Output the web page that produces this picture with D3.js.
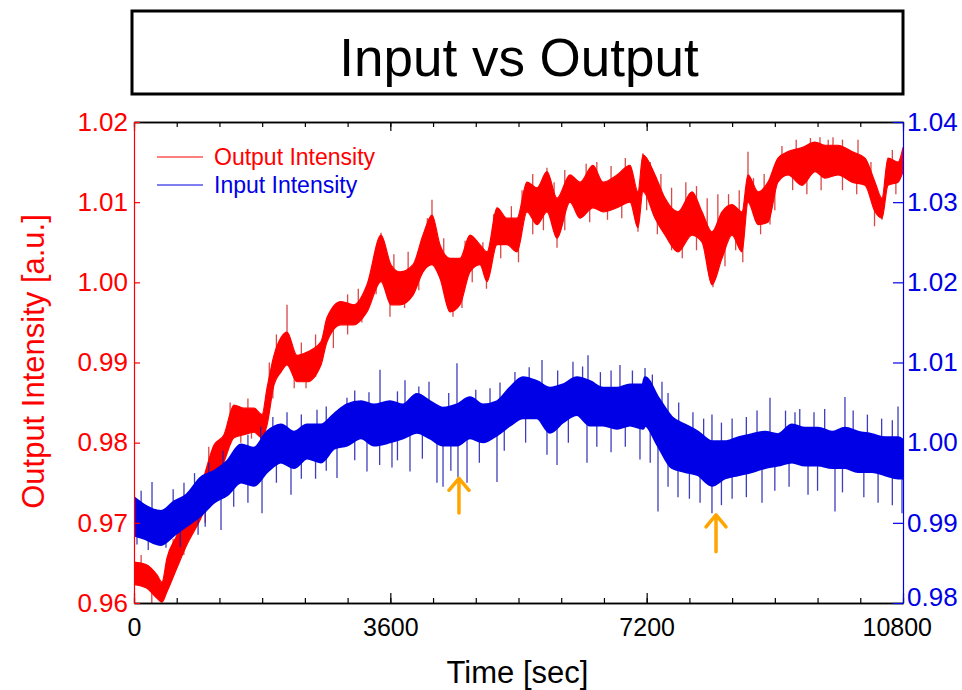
<!DOCTYPE html>
<html>
<head>
<meta charset="utf-8">
<script src="https://cdn.jsdelivr.net/npm/d3@7"></script>
<style>
  body { margin: 0; background: #fff; }
  text { font-family: "Liberation Sans", Arial, Helvetica, sans-serif; }
</style>
</head>
<body>
<div id="chart"></div>
<script>
// ---- data ----
// Output intensity (left axis): band of the dense trace, low / high edge
var outTime = [0,169,323,393,463,604,744,941,1124,1264,
  1404,1545,1685,1798,1868,1966,2064,2149,2289,2430,
  2626,2711,2907,3090,3272,3469,3609,3736,3918,4059,
  4185,4297,4438,4578,4719,4859,4958,5098,5238,5379,
  5519,5660,5800,5941,6123,6264,6446,6587,6783,6966,
  7078,7148,7317,7457,7640,7837,7977,8117,8258,8398,
  8539,8623,8764,8904,9044,9185,9381,9564,9704,9887,
  10084,10266,10407,10505,10589,10730,10800];
var outHi = [0.9651,0.9648,0.9635,0.9626,0.9656,0.9685,0.9719,0.9747,0.9797,0.9810,
  0.9847,0.9843,0.9843,0.9835,0.9868,0.9909,0.9931,0.9938,0.9909,0.9913,
  0.9926,0.9956,0.9976,0.9972,0.9997,1.0059,1.0022,1.0013,1.0022,1.0059,
  1.0084,1.0047,1.0030,1.0030,1.0059,1.0047,1.0038,1.0093,1.0080,1.0080,
  1.0125,1.0118,1.0138,1.0105,1.0134,1.0125,1.0146,1.0125,1.0134,1.0146,
  1.0113,1.0159,1.0134,1.0105,1.0088,1.0113,1.0088,1.0063,1.0088,1.0097,
  1.0088,1.0134,1.0113,1.0125,1.0155,1.0163,1.0168,1.0175,1.0171,1.0171,
  1.0163,1.0155,1.0125,1.0105,1.0155,1.0150,1.0168];
var outLo = [0.9623,0.9619,0.9606,0.9601,0.9614,0.9644,0.9673,0.9706,0.9747,0.9776,
  0.9806,0.9810,0.9813,0.9806,0.9822,0.9872,0.9888,0.9897,0.9876,0.9876,
  0.9897,0.9926,0.9947,0.9947,0.9963,1.0001,0.9972,0.9972,0.9984,1.0013,
  1.0022,1.0005,0.9963,0.9972,1.0013,1.0022,1.0001,1.0047,1.0047,1.0038,
  1.0088,1.0072,1.0088,1.0055,1.0100,1.0080,1.0093,1.0088,1.0093,1.0100,
  1.0068,1.0113,1.0080,1.0059,1.0038,1.0059,1.0050,0.9997,1.0030,1.0059,
  1.0038,1.0100,1.0072,1.0075,1.0125,1.0134,1.0121,1.0138,1.0130,1.0134,
  1.0125,1.0121,1.0088,1.0080,1.0121,1.0125,1.0138];
// spikes of the output trace [time, value]
var outSpikes = [[2149,0.9972],[3469,1.0062],[4185,1.0103],[5800,1.0143],[7148,1.0161],
  [8623,1.0163],[9634,1.0181],[9817,1.0181],[10168,1.0178],
  [1798,0.9803],[2416,0.9868],[3595,0.9957],[4480,0.9957],[4606,0.9968],
  [5941,1.0043],[7078,1.0063],[8131,0.9994],[8932,1.0072],[10505,1.0078],
  [100,0.9660],[550,0.9680],[850,0.9745],[1050,0.9795],[1350,0.9850],[1600,0.9855],
  [1900,0.9900],[2000,0.9935],[2350,0.9925],[2550,0.9935],[2800,0.9970],[3000,0.9985],
  [3150,0.9992],[3380,1.0035],[3650,1.0035],[3850,1.0038],[4120,1.0080],[4350,1.0055],
  [4650,1.0052],[4900,1.0050],[5050,1.0085],[5300,1.0095],[5450,1.0115],[5600,1.0135],
  [5900,1.0125],[6050,1.0140],[6350,1.0148],[6500,1.0150],[6700,1.0145],[6900,1.0155],
  [7250,1.0150],[7400,1.0135],[7550,1.0118],[7750,1.0125],[7900,1.0120],[8050,1.0105],
  [8200,1.0110],[8350,1.0110],[8500,1.0115],[8700,1.0130],[8850,1.0135],[9100,1.0170],
  [9300,1.0178],[9500,1.0180],[9750,1.0178],[9950,1.0178],[10350,1.0150],[10650,1.0165],
  [250,0.9598],[700,0.9660],[1000,0.9700],[1200,0.9760],[1500,0.9800],[1650,0.9805],
  [1950,0.9855],[2250,0.9868],[2550,0.9882],[2800,0.9918],[3000,0.9935],[3200,0.9950],
  [3400,0.9985],[3800,0.9968],[4000,0.9990],[4350,0.9990],[4750,1.0000],[4950,0.9992],
  [5150,1.0030],[5400,1.0025],[5600,1.0060],[5750,1.0065],[6050,1.0065],[6400,1.0075],
  [6650,1.0078],[6850,1.0080],[7200,1.0090],[7350,1.0060],[7550,1.0040],[7700,1.0030],
  [7900,1.0040],[8050,1.0030],[8300,1.0020],[8450,1.0040],[8550,1.0025],[8800,1.0060],
  [9000,1.0090],[9250,1.0115],[9450,1.0110],[9650,1.0115],[9950,1.0115],[10150,1.0110],
  [10400,1.0070],[10700,1.0110]];

// Input intensity (right axis)
var inTime = [0,140,379,562,744,941,1124,1306,1503,1685,
  1868,2064,2247,2430,2626,2809,2991,3188,3371,3595,
  3778,3974,4157,4340,4536,4719,4901,5098,5281,5463,
  5660,5842,6025,6221,6404,6587,6783,6966,7148,7177,
  7359,7556,7738,7921,8117,8300,8483,8679,8862,9044,
  9241,9424,9606,9803,9985,10168,10365,10547,10730,10800];
var inHi = [0.9931,0.9922,0.9914,0.9926,0.9935,0.9956,0.9964,0.9976,0.9997,0.9993,
  1.0013,1.0022,1.0013,1.0022,1.0022,1.0035,1.0047,1.0051,1.0047,1.0051,
  1.0047,1.0060,1.0051,1.0043,1.0047,1.0056,1.0047,1.0051,1.0068,1.0081,
  1.0076,1.0068,1.0072,1.0081,1.0076,1.0068,1.0068,1.0072,1.0072,1.0081,
  1.0056,1.0031,1.0022,1.0013,1.0001,1.0001,1.0006,1.0010,1.0013,1.0010,
  1.0022,1.0018,1.0018,1.0013,1.0018,1.0013,1.0010,1.0006,1.0006,1.0003];
var inLo = [0.9885,0.9881,0.9873,0.9885,0.9897,0.9910,0.9926,0.9935,0.9951,0.9947,
  0.9964,0.9976,0.9969,0.9981,0.9976,0.9993,0.9997,1.0006,0.9997,1.0001,
  1.0006,1.0013,1.0006,0.9997,0.9997,1.0006,1.0001,1.0010,1.0022,1.0031,
  1.0031,1.0013,1.0026,1.0035,1.0022,1.0022,1.0018,1.0022,1.0018,1.0022,
  0.9997,0.9969,0.9964,0.9960,0.9947,0.9956,0.9960,0.9964,0.9969,0.9972,
  0.9976,0.9972,0.9972,0.9969,0.9969,0.9964,0.9964,0.9960,0.9956,0.9956];
var inSpikes = [[253,0.9951],[702,0.9950],[1404,0.9985],[2149,1.0038],[2570,1.0041],
  [2991,1.0056],[3300,1.0063],[3455,1.0091],[3806,1.0078],[4143,1.0076],[4536,1.0099],
  [5140,1.0075],[5730,1.0103],[6165,1.0101],[6376,1.0109],[6825,1.0097],[7177,1.0093],
  [7415,1.0076],[8117,1.0035],[8932,1.0056],[9283,1.0038],[9985,1.0057],[10730,1.0045],
  [42,0.9873],[449,0.9869],[1222,0.9891],[1798,0.9912],[2205,0.9935],[2851,0.9956],
  [3272,0.9964],[3623,0.9969],[3876,0.9964],[4255,0.9950],[4340,0.9945],[4550,0.9957],
  [4677,0.9950],[5098,0.9951],[5941,0.9972],[6362,0.9975],[7106,0.9979],[7359,0.9914],
  [7640,0.9932],[8117,0.9912],[8820,0.9925],[9466,0.9935],[9845,0.9914],[10786,0.9912],
  [100,0.9940],[550,0.9942],[850,0.9962],[1050,0.9975],[1250,0.9990],[1600,1.0010],
  [1780,1.0020],[1950,1.0032],[2350,1.0035],[2700,1.0045],[3100,1.0065],[3700,1.0064],
  [4000,1.0070],[4420,1.0062],[4800,1.0066],[5000,1.0068],[5350,1.0088],[5550,1.0094],
  [5950,1.0090],[6300,1.0095],[6550,1.0088],[6700,1.0090],[7000,1.0090],[7280,1.0085],
  [7500,1.0062],[7650,1.0050],[7850,1.0038],[8000,1.0030],[8250,1.0025],[8400,1.0030],
  [8600,1.0032],[8750,1.0040],[9150,1.0040],[9350,1.0042],[9550,1.0038],[9700,1.0042],
  [10100,1.0040],[10300,1.0035],[10500,1.0030],[10650,1.0028],
  [200,0.9866],[650,0.9870],[900,0.9885],[1000,0.9895],[1400,0.9920],[1600,0.9925],
  [2000,0.9950],[2350,0.9955],[2550,0.9955],[2700,0.9965],[3100,0.9978],[3450,0.9972],
  [3700,0.9978],[4050,0.9980],[4450,0.9965],[4850,0.9975],[5200,0.9990],[5500,1.0000],
  [5800,0.9985],[6100,1.0000],[6500,0.9995],[6700,0.9988],[6900,0.9995],[7250,0.9975],
  [7500,0.9945],[7800,0.9930],[7950,0.9925],[8250,0.9922],[8400,0.9930],[8600,0.9932],
  [9000,0.9940],[9200,0.9945],[9600,0.9940],[9950,0.9938],[10250,0.9932],[10450,0.9925],
  [10650,0.9922]];

// orange arrows [time, tip value, tail value] on the right axis
var arrows = [[4564,0.99556,0.99124],[8174,0.99100,0.98638]];

var xTicks = [0,3600,7200,10800];
var leftTicks = [0.96,0.97,0.98,0.99,1.00,1.01,1.02];
var rightTicks = [0.98,0.99,1.00,1.01,1.02,1.03,1.04];

var title = "Input vs Output";
var seriesNames = ["Output Intensity","Input Intensity"];

// ---- layout ----
var margin = {top: 122, right: 59, bottom: 87, left: 134};
var width = 962 - margin.left - margin.right,
    height = 690 - margin.top - margin.bottom;

var RED = "#ff0000", BLUE = "#0000e6";

var svgRoot = d3.select("#chart").append("svg")
    .attr("width", 962)
    .attr("height", 690);

// title box
svgRoot.append("rect")
    .attr("x", 132).attr("y", 11)
    .attr("width", 771).attr("height", 83)
    .attr("fill", "none").attr("stroke", "#000").attr("stroke-width", 3);
svgRoot.append("text")
    .attr("x", 519).attr("y", 76)
    .attr("text-anchor", "middle")
    .style("font-size", "53px")
    .text(title);

var svg = svgRoot.append("g")
    .attr("transform", "translate(" + margin.left + "," + margin.top + ")");

svg.append("defs").append("clipPath")
    .attr("id", "clip")
    .append("rect")
    .attr("width", width)
    .attr("height", height);

// scales
var x = d3.scaleLinear().domain([0, 10800]).range([0, width]);
var yL = d3.scaleLinear().domain([0.96, 1.02]).range([height, 0]);
var yR = d3.scaleLinear().domain([0.98, 1.04]).range([height, 0]);

var plot = svg.append("g").attr("clip-path", "url(#clip)");

function drawSeries(times, lo, hi, spikes, y, color, spikeColor, edge) {
    var data = times.map(function(t, i) { return {t: t, lo: lo[i], hi: hi[i]}; });

    // spikes first, from the band centre
    var mid = d3.scaleLinear().domain(times)
        .range(times.map(function(t, i) { return (lo[i] + hi[i]) / 2; }));
    plot.append("g").selectAll("line")
        .data(spikes)
        .enter().append("line")
        .attr("x1", function(d) { return x(d[0]); })
        .attr("x2", function(d) { return x(d[0]); })
        .attr("y1", function(d) { return y(mid(d[0])); })
        .attr("y2", function(d) { return y(d[1]); })
        .attr("stroke", spikeColor)
        .attr("stroke-width", 1.3)
        .attr("stroke-opacity", 0.85);

    var area = d3.area()
        .x(function(d) { return x(d.t); })
        .y0(function(d) { return y(d.lo); })
        .y1(function(d) { return y(d.hi); })
        .curve(d3.curveMonotoneX);
    plot.append("path")
        .datum(data)
        .attr("fill", color)
        .attr("stroke", color)
        .attr("stroke-width", edge)
        .attr("stroke-linejoin", "round")
        .attr("d", area);
}

drawSeries(outTime, outLo, outHi, outSpikes, yL, RED, "#d02828", 1.2);
drawSeries(inTime, inLo, inHi, inSpikes, yR, BLUE, "#1c1cb0", 3);

// axes
var fmt = d3.format(".2f");

svg.append("g")
    .attr("class", "x-axis axis")
    .attr("transform", "translate(0," + height + ")")
    .call(d3.axisBottom(x).tickValues(d3.range(0, 10801, 600)).tickSize(-5).tickSizeOuter(0).tickFormat(""));
var xMajor = svg.append("g")
    .attr("class", "x-axis axis")
    .attr("transform", "translate(0," + height + ")")
    .call(d3.axisBottom(x).tickValues(xTicks).tickSize(-10).tickSizeOuter(0).tickPadding(15).tickFormat(d3.format("d")));
svg.append("g")
    .attr("class", "x-top axis")
    .call(d3.axisTop(x).tickValues(d3.range(0, 10801, 600)).tickSize(-5).tickSizeOuter(0).tickFormat(""));
svg.append("g")
    .attr("class", "x-top axis")
    .call(d3.axisTop(x).tickValues(xTicks).tickSize(-9).tickSizeOuter(0).tickFormat(""));

svg.selectAll(".x-axis path, .x-top path").attr("stroke", "#000").attr("stroke-width", 1.5);
svg.selectAll(".x-axis line, .x-top line").attr("stroke", "#000").attr("stroke-width", 1.2);
svg.selectAll(".x-axis text")
    .attr("fill", "#000")
    .style("font-size", "25px");
// last label sits a little left of its tick, clear of the right-axis label
xMajor.selectAll("text").filter(function(d) { return d === 10800; }).attr("dx", "-0.25em");

var yLeftG = svg.append("g")
    .attr("class", "y-left axis")
    .call(d3.axisLeft(yL).tickValues(leftTicks).tickSize(-6).tickSizeOuter(0).tickPadding(6).tickFormat(fmt));
yLeftG.select("path").attr("stroke", RED).attr("stroke-width", 1.2);
yLeftG.selectAll("line").attr("stroke", RED).attr("stroke-width", 1.2);
yLeftG.selectAll("text").attr("fill", RED).style("font-size", "26px");

var yRightG = svg.append("g")
    .attr("class", "y-right axis")
    .attr("transform", "translate(" + width + ",0)")
    .call(d3.axisRight(yR).tickValues(rightTicks).tickSize(-10).tickSizeOuter(0).tickPadding(4).tickFormat(fmt));
yRightG.select("path").attr("stroke", BLUE).attr("stroke-width", 1.2);
yRightG.selectAll("line").attr("stroke", BLUE).attr("stroke-width", 1.2);
yRightG.selectAll("text").attr("fill", BLUE).style("font-size", "26px");
yRightG.selectAll("text").filter(function(d) { return d === 0.98; }).attr("dy", "0.1em");

// axis titles
svg.append("text")
    .attr("x", width / 2 - 1)
    .attr("y", height + 80)
    .attr("text-anchor", "middle")
    .style("font-size", "31px")
    .text("Time [sec]");
svg.append("text")
    .attr("transform", "translate(" + (-90) + "," + (height / 2 - 1) + ") rotate(-90)")
    .attr("text-anchor", "middle")
    .attr("fill", RED)
    .style("font-size", "31px")
    .text("Output Intensity [a.u.]");

// legend
var legend = svg.append("g").attr("transform", "translate(23,35)");
[RED, BLUE].forEach(function(c, i) {
    legend.append("line")
        .attr("x1", 0).attr("x2", 46)
        .attr("y1", i * 28).attr("y2", i * 28)
        .attr("stroke", c).attr("stroke-width", 1.2);
    legend.append("text")
        .attr("x", 57).attr("y", i * 28 + 8)
        .attr("fill", c)
        .style("font-size", "23px")
        .text(seriesNames[i]);
});

// orange arrows
arrows.forEach(function(a) {
    var ax = x(a[0]), tip = yR(a[1]), tail = yR(a[2]);
    svg.append("path")
        .attr("d", "M" + ax + "," + tail + "L" + ax + "," + (tip + 2)
            + "M" + (ax - 10) + "," + (tip + 12) + "L" + ax + "," + tip + "L" + (ax + 10) + "," + (tip + 12))
        .attr("fill", "none")
        .attr("stroke", "#ffa500")
        .attr("stroke-width", 3.5)
        .attr("stroke-linecap", "round")
        .attr("stroke-linejoin", "round");
});
</script>
</body>
</html>
